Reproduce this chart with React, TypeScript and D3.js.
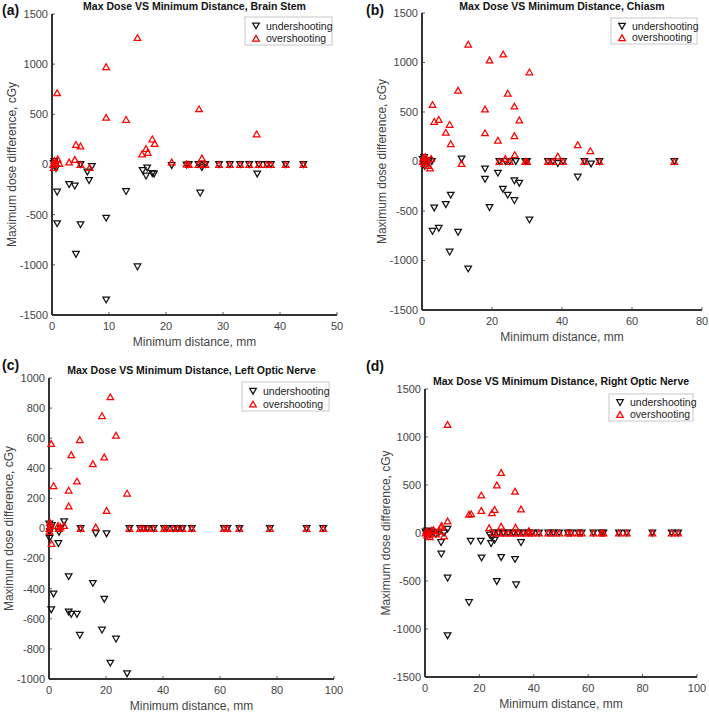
import React from 'react';
import * as d3 from 'd3';

type Pt = [number, number];

// (a) brain stem: [distance mm, dose difference cGy]
const brainStemUnder: Pt[] = [
  [0.3, 10], [0.5, -20], [0.4, 30], [0.7, -40], [0.9, -275], [0.9, -590], [3.0, -200], [4.0, -215],
  [4.2, -895], [5.0, -600], [5.0, 0], [6.2, -75], [6.5, -160], [7.0, -20], [9.5, -535], [9.5, -1350],
  [13.0, -270], [15.0, -1020], [15.9, -60], [16.5, -115], [16.7, -35], [17.6, -90], [17.9, -95],
  [21.0, -10], [23.6, -5], [24.0, 0], [25.7, 0], [26.0, -285], [26.3, -30], [26.9, 0], [29.3, 0],
  [31.2, 0], [33.0, 0], [34.6, 0], [36.0, -95], [36.3, 0], [37.7, 0], [38.4, 0], [41.0, 0], [44.1, 0],
];
const brainStemOver: Pt[] = [
  [0.2, 0], [0.4, 40], [0.3, -30], [0.6, 20], [1.0, 55], [0.9, 715], [1.3, 10], [3.0, 25], [4.0, 50],
  [4.2, 200], [5.0, 185], [5.0, 0], [6.6, -30], [9.5, 975], [9.5, 470], [13.0, 450], [15.0, 1265],
  [15.8, 105], [16.5, 160], [16.8, 120], [17.6, 255], [18.0, 210], [21.0, 25], [23.6, 5], [24.0, 0],
  [25.7, 0], [25.8, 555], [26.3, 65], [26.9, 0], [29.3, 0], [31.2, 0], [33.0, 0], [34.6, 0],
  [35.9, 305], [36.3, 0], [37.7, 0], [38.4, 0], [41.0, 0], [44.1, 0],
];

// (b) chiasm
const chiasmUnder: Pt[] = [
  [0.2, 20], [0.4, -30], [0.6, 40], [0.8, -50], [1.2, 0], [1.6, -20], [2.0, 10], [2.8, 0],
  [3.0, -705], [3.5, -470], [4.8, -675], [6.8, -435], [7.9, -915], [8.2, -340], [10.3, -715],
  [11.3, 25], [13.2, -1085], [18.0, -75], [18.0, -180], [19.3, -465], [21.7, -118], [22.1, 0],
  [23.1, -280], [23.8, 0], [24.5, -340], [25.1, 0], [26.4, -195], [26.4, -395], [26.8, 0],
  [27.8, -220], [29.5, 0], [30.0, 0], [30.7, -590], [36.0, 0], [37.4, 0], [38.8, -20], [40.3, 0],
  [44.5, -158], [46.4, 0], [48.3, -25], [50.7, 0], [72.1, 0],
];
const chiasmOver: Pt[] = [
  [0.2, 0], [0.4, 40], [0.6, -20], [0.9, 50], [1.4, 20], [1.8, -40], [2.3, -65], [2.6, 30],
  [3.0, 575], [3.5, 405], [4.8, 425], [6.8, 295], [7.9, 375], [8.2, 180], [10.3, 720], [11.3, -20],
  [13.2, 1185], [18.0, 530], [18.0, 290], [19.3, 1025], [21.7, 215], [22.1, 0], [23.2, 1085],
  [23.8, 30], [24.5, 690], [25.1, 0], [26.4, 560], [26.4, 260], [26.5, 70], [27.8, 420], [29.5, 0],
  [30.0, 0], [30.7, 905], [36.0, 0], [37.4, 0], [38.8, 55], [40.3, 0], [44.5, 170], [46.4, 0],
  [48.1, 110], [50.7, 0], [72.1, 0],
];

// (c) left optic nerve
const leftOnUnder: Pt[] = [
  [0.1, 30], [0.3, -20], [0.2, -65], [0.5, 0], [0.8, -540], [1.0, 20], [1.6, -435], [3.3, -100],
  [3.5, -25], [4.0, 0], [5.3, 45], [6.9, -320], [6.9, -555], [7.8, -570], [9.8, -570], [10.8, -710],
  [11.1, 0], [15.4, -365], [16.4, -33], [18.6, -675], [19.4, -470], [20.2, -35], [21.5, -895],
  [23.5, -735], [27.4, -965], [28.2, 0], [32.0, 0], [33.1, 0], [34.6, 0], [36.7, 0], [40.4, 0],
  [41.3, 0], [43.6, 0], [45.1, 0], [46.8, 0], [50.1, 0], [61.4, 0], [62.6, 0], [66.8, 0],
  [77.5, 0], [90.4, 0], [96.2, 0],
];
const leftOnOver: Pt[] = [
  [0.1, 0], [0.3, 40], [0.2, -20], [0.5, 20], [0.8, 565], [0.9, -100], [1.6, 285], [3.2, 20],
  [3.5, 0], [4.0, 10], [5.3, 20], [6.9, 255], [6.9, 150], [7.8, 490], [9.8, 315], [10.8, 590],
  [11.1, 0], [15.4, 430], [16.4, 10], [18.6, 750], [19.4, 475], [20.2, 120], [21.5, 875],
  [23.5, 620], [27.4, 235], [28.2, 0], [32.0, 0], [33.1, 0], [34.6, 0], [36.7, 0], [40.4, 0],
  [41.3, 0], [43.6, 0], [45.1, 0], [46.8, 0], [50.1, 0], [61.4, 0], [62.6, 0], [66.8, 0],
  [77.5, 0], [90.4, 0], [96.2, 0],
];

// (d) right optic nerve
const rightOnUnder: Pt[] = [
  [0.2, 10], [0.5, -10], [0.8, 20], [1.2, 0], [1.8, -20], [2.5, 10], [3.1, 0], [4.0, -15], [5.0, 0],
  [5.9, -100], [6.0, -220], [7.0, 0], [8.3, 40], [8.3, -470], [8.3, -1070], [16.2, -725],
  [16.8, -85], [20.5, -85], [20.8, -260], [23.8, -20], [24.3, -110], [24.6, -50], [25.6, -75],
  [26.4, -505], [28.0, -255], [33.1, -275], [33.5, -540], [35.3, -100], [25.1, 0], [27.0, 0],
  [28.8, 0], [30.6, 0], [32.5, 0], [34.3, 0], [36.1, 0], [38.0, 0], [39.4, 0], [41.9, 0], [45.3, 0],
  [47.2, 0], [49.3, 0], [52.5, 0], [53.7, 0], [56.4, 0], [57.6, 0], [61.9, 0], [64.9, 0], [65.6, 0],
  [71.3, 0], [74.2, 0], [83.6, 0], [90.7, 0], [93.1, 0],
];
const rightOnOver: Pt[] = [
  [0.2, 0], [0.5, 20], [0.8, -20], [1.2, 10], [1.8, -40], [2.5, 30], [3.1, 35], [4.0, -10], [5.0, 20],
  [5.9, 60], [6.1, 80], [7.0, -30], [8.3, 1130], [8.3, 125], [16.2, 195], [17.0, 200], [20.7, 395],
  [20.7, 235], [23.6, 55], [24.6, 210], [25.6, 245], [26.4, 500], [28.0, 630], [28.0, 70],
  [33.1, 435], [33.3, 60], [35.3, 250], [38.2, 25], [25.1, 0], [27.0, 0], [28.8, 0], [30.6, 0],
  [32.5, 0], [34.3, 0], [36.1, 0], [38.0, 0], [39.4, 0], [41.9, 0], [45.3, 0], [47.2, 0], [49.3, 0],
  [52.5, 0], [53.7, 0], [56.4, 0], [57.6, 0], [61.9, 0], [64.9, 0], [65.6, 0], [71.3, 0], [74.2, 0],
  [83.6, 0], [90.7, 0], [93.1, 0],
];

const titles = [
  'Max Dose VS Minimum Distance, Brain Stem',
  'Max Dose VS Minimum Distance, Chiasm',
  'Max Dose VS Minimum Distance, Left Optic Nerve',
  'Max Dose VS Minimum Distance, Right Optic Nerve',
];
const tags = ['(a)', '(b)', '(c)', '(d)'];
const xMax = [50, 80, 100, 100];
const yMax = [1500, 1500, 1000, 1500];
const xStep = [10, 20, 20, 20];
const yStep = [500, 500, 200, 500];
const legendLabels = ['undershooting', 'overshooting'];
const xLabel = 'Minimum distance, mm';
const yLabel = 'Maximum dose difference, cGy';

const underSets = [brainStemUnder, chiasmUnder, leftOnUnder, rightOnUnder];
const overSets = [brainStemOver, chiasmOver, leftOnOver, rightOnOver];

// plot boxes in page pixels
const frames = [
  { l: 52, r: 337, t: 14, b: 315, titleY: 10, tagX: 2, tagY: 15, ylabX: 12, lg: { x: 245, y: 17, w: 87, h: 28 } },
  { l: 422, r: 702, t: 13, b: 310, titleY: 10, tagX: 366, tagY: 15, ylabX: 382, lg: { x: 611, y: 18, w: 86, h: 26 } },
  { l: 49, r: 334, t: 378, b: 679, titleY: 374, tagX: 2, tagY: 370, ylabX: 9, lg: { x: 242, y: 382, w: 87, h: 29 } },
  { l: 425, r: 697, t: 389, b: 677, titleY: 385, tagX: 366, tagY: 371, ylabX: 386, lg: { x: 609, y: 394, w: 84, h: 27 } },
];

const font = '"Liberation Sans", Arial, Helvetica, sans-serif';
const axisColor = '#333';
const tickColor = '#444';

const tri = (x: number, y: number, down: boolean) => {
  const w = 3.3, h = 2.9;
  return down
    ? `M${x - w},${y - h}L${x + w},${y - h}L${x},${y + h}Z`
    : `M${x - w},${y + h}L${x + w},${y + h}L${x},${y - h}Z`;
};

const Panel = ({ i }: { i: number }) => {
  const f = frames[i];
  const x = d3.scaleLinear().domain([0, xMax[i]]).range([f.l, f.r]);
  const y = d3.scaleLinear().domain([-yMax[i], yMax[i]]).range([f.b, f.t]);
  const xt = d3.range(0, xMax[i] + 0.001, xStep[i]);
  const yt = d3.range(-yMax[i], yMax[i] + 0.001, yStep[i]);
  const midX = (f.l + f.r) / 2;
  const midY = (f.t + f.b) / 2;

  return (
    <g fontFamily={font}>
      <text x={f.tagX} y={f.tagY} fontSize={14} fontWeight="bold" fill="#111">{tags[i]}</text>
      <text x={midX} y={f.titleY} fontSize={10.5} fontWeight="bold" textAnchor="middle" fill="#111">{titles[i]}</text>

      {yt.map(v => (
        <g key={'y' + v}>
          <line x1={f.l} x2={f.l + 3} y1={y(v)} y2={y(v)} stroke={axisColor} strokeWidth={0.8} />
          <text x={f.l - 4} y={y(v)} dy="0.35em" fontSize={11} textAnchor="end" fill={tickColor}>{v}</text>
        </g>
      ))}
      {xt.map(v => (
        <g key={'x' + v}>
          <line x1={x(v)} x2={x(v)} y1={f.b} y2={f.b - 3} stroke={axisColor} strokeWidth={0.8} />
          <text x={x(v)} y={f.b + 15} fontSize={11} textAnchor="middle" fill={tickColor}>{v}</text>
        </g>
      ))}
      <line x1={f.l} x2={f.r} y1={f.b} y2={f.b} stroke={axisColor} strokeWidth={2} />
      <line x1={f.l} x2={f.l} y1={f.t} y2={f.b} stroke={axisColor} strokeWidth={2} />

      <text x={midX} y={f.b + 31} fontSize={12} textAnchor="middle" fill={tickColor}>{xLabel}</text>
      <text transform={`translate(${f.ylabX},${midY}) rotate(-90)`} dy="0.35em" fontSize={12} textAnchor="middle" fill={tickColor}>{yLabel}</text>

      {underSets[i].map((p, k) => (
        <path key={'u' + k} d={tri(x(p[0]), y(p[1]), true)} fill="none" stroke="#111" strokeWidth={1.25} />
      ))}
      {overSets[i].map((p, k) => (
        <path key={'o' + k} d={tri(x(p[0]), y(p[1]), false)} fill="none" stroke="#ff0000" strokeWidth={1.25} />
      ))}

      <rect x={f.lg.x} y={f.lg.y} width={f.lg.w} height={f.lg.h} fill="#fff" stroke="#c8c8c8" strokeWidth={1} />
      {legendLabels.map((lab, k) => {
        const ry = f.lg.y + f.lg.h * (k === 0 ? 0.32 : 0.76);
        return (
          <g key={lab}>
            <path d={tri(f.lg.x + 11, ry, k === 0)} fill="none" stroke={k === 0 ? '#111' : '#ff0000'} strokeWidth={1.25} />
            <text x={f.lg.x + 21} y={ry} dy="0.35em" fontSize={10.5} fill="#222">{lab}</text>
          </g>
        );
      })}
    </g>
  );
};

export default function App() {
  return (
    <svg width={709} height={713} style={{ position: 'absolute', left: 0, top: 0, background: '#fff' }}>
      {[0, 1, 2, 3].map(i => <Panel key={i} i={i} />)}
    </svg>
  );
}
